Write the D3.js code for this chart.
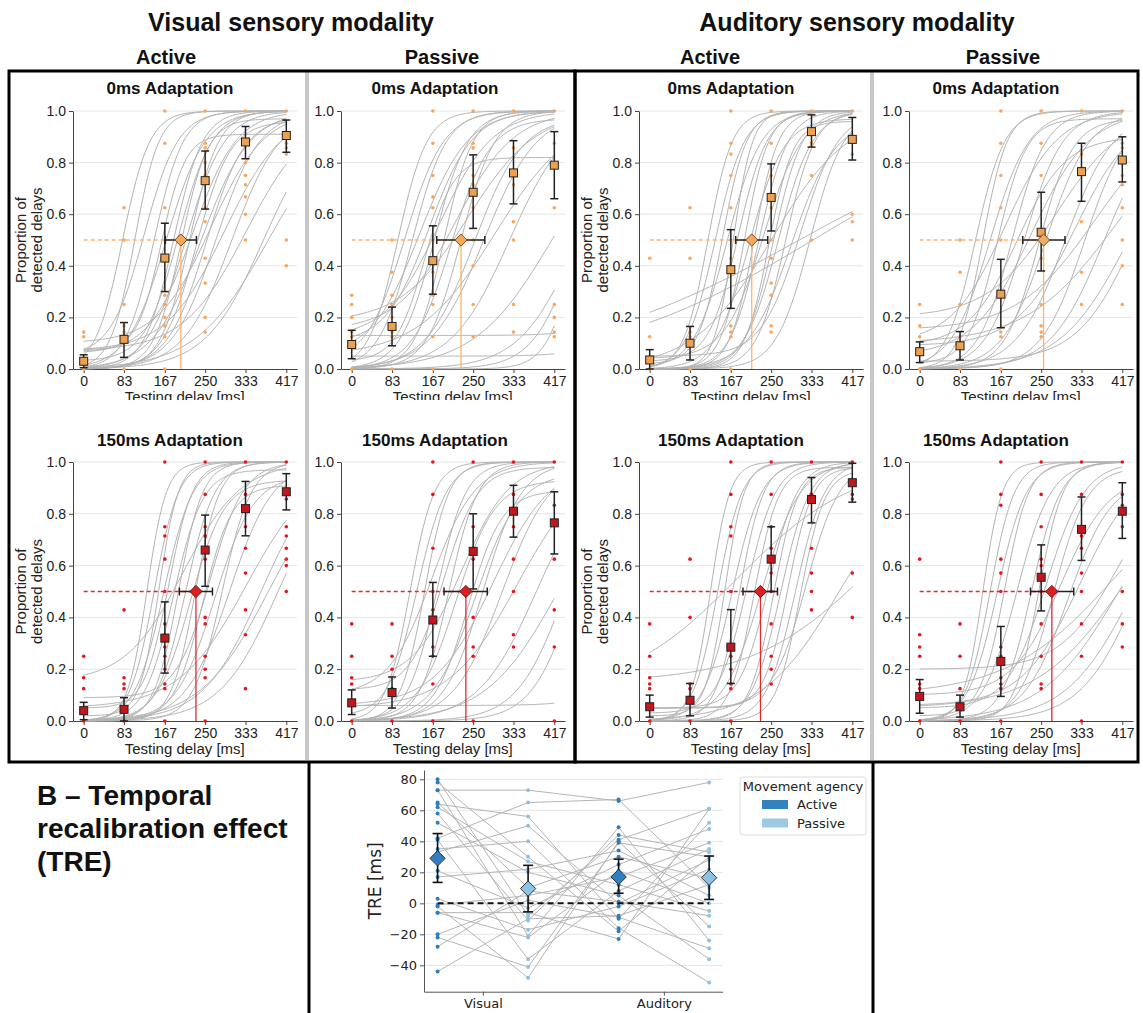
<!DOCTYPE html>
<html>
<head>
<meta charset="utf-8">
<script src="https://cdn.jsdelivr.net/npm/d3@7"></script>
<style>
  body { margin: 0; background: #fff; }
  svg { display: block; }
</style>
</head>
<body>
<div id="chart"></div>
<script>
// ---- data ----
const delays = [0, 83, 167, 250, 333, 417];
const propTicks = [0, 0.2, 0.4, 0.6, 0.8, 1.0];

// fitted psychometric curves per participant: [pse, spread, lower, upper]
// mean proportion per delay, its CI, individual proportions, PSE [value, lo, hi]

// Visual / active / 0ms
const meanVisAct0 = [0.03, 0.115, 0.43, 0.73, 0.88, 0.905];
const ciVisAct0 = [[0.005, 0.055], [0.045, 0.18], [0.30, 0.565], [0.62, 0.845], [0.815, 0.94], [0.84, 0.965]];
const pseVisAct0 = [200, 168, 232];
const dotsVisAct0 = [
  [0, 0.125, 0.143],
  [0, 0.125, 0.143, 0.167, 0.25, 0.5, 0.625],
  [0, 0.125, 0.167, 0.2, 0.25, 0.286, 0.5, 0.625, 0.875, 1],
  [0.143, 0.2, 0.333, 0.429, 0.571, 0.625, 0.75, 0.8, 0.857, 0.875, 1],
  [0.5, 0.6, 0.667, 0.714, 0.75, 0.8, 0.875, 1],
  [0.4, 0.5, 0.833, 0.857, 0.875, 1]
];
const curvesVisAct0 = [
  [80, 28, 0, 1], [105, 25, 0, 1], [125, 35, 0.05, 1], [145, 30, 0, 1], [160, 25, 0.07, 0.91],
  [170, 40, 0, 1], [185, 30, 0, 1], [195, 35, 0.03, 1], [200, 28, 0, 0.97], [210, 40, 0, 1],
  [218, 30, 0, 1], [225, 45, 0.06, 1], [232, 35, 0, 0.96], [242, 50, 0, 1], [252, 40, 0, 0.98],
  [262, 55, 0.1, 1], [272, 45, 0, 1], [290, 60, 0.07, 1], [305, 50, 0, 1], [335, 65, 0.07, 1],
  [370, 60, 0, 1], [380, 75, 0, 1]
];

// Visual / passive / 0ms
const meanVisPas0 = [0.095, 0.165, 0.42, 0.685, 0.76, 0.79];
const ciVisPas0 = [[0.04, 0.15], [0.09, 0.24], [0.29, 0.555], [0.545, 0.83], [0.64, 0.885], [0.66, 0.92]];
const pseVisPas0 = [225, 175, 274];
const dotsVisPas0 = [
  [0, 0.125, 0.143, 0.2, 0.25, 0.286],
  [0, 0.125, 0.143, 0.2, 0.25, 0.286, 0.375, 0.5],
  [0, 0.125, 0.25, 0.286, 0.375, 0.5, 0.625, 0.667, 0.75, 0.875, 1],
  [0.125, 0.25, 0.4, 0.5, 0.625, 0.714, 0.75, 0.857, 0.875, 1],
  [0.143, 0.25, 0.5, 0.571, 0.714, 0.857, 1],
  [0.125, 0.143, 0.2, 0.25, 0.625, 0.875, 1]
];
const curvesVisPas0 = [
  [95, 30, 0, 1], [110, 40, 0.02, 1], [125, 35, 0, 1], [140, 50, 0.05, 1], [150, 30, 0.03, 0.82],
  [160, 45, 0.1, 1], [170, 35, 0, 1], [180, 55, 0.12, 1], [190, 30, 0, 1], [205, 40, 0, 0.97],
  [215, 60, 0.15, 1], [225, 35, 0, 1], [240, 70, 0.18, 1], [252, 50, 0, 0.98], [272, 55, 0, 1],
  [295, 80, 0.05, 1], [325, 60, 0, 1], [412, 80, 0, 1], [466, 60, 0, 1], [466, 45, 0, 1],
  [465, 30, 0, 1], [650, 50, 0.13, 1], [650, 50, 0.05, 1]
];

// Auditory / active / 0ms
const meanAudAct0 = [0.035, 0.10, 0.385, 0.665, 0.92, 0.89];
const ciAudAct0 = [[0.0, 0.075], [0.035, 0.165], [0.235, 0.54], [0.535, 0.795], [0.86, 0.985], [0.81, 0.975]];
const pseAudAct0 = [210, 177, 243];
const dotsAudAct0 = [
  [0, 0.125, 0.429],
  [0, 0.125, 0.143, 0.429, 0.625],
  [0, 0.125, 0.143, 0.167, 0.429, 0.5, 0.625, 0.75, 0.833, 0.875, 1],
  [0.143, 0.167, 0.286, 0.333, 0.429, 0.5, 0.625, 0.75, 0.875, 1],
  [0.5, 0.75, 0.875, 1],
  [0.5, 0.571, 0.6, 0.833, 1]
];
const curvesAudAct0 = [
  [120, 25, 0, 1], [135, 30, 0, 1], [150, 25, 0.02, 1], [160, 35, 0, 1], [172, 20, 0, 1],
  [182, 30, 0.03, 1], [195, 25, 0, 1], [205, 35, 0, 0.97], [215, 25, 0, 1], [225, 30, 0, 1],
  [235, 40, 0.04, 1], [245, 25, 0, 0.96], [255, 30, 0, 1], [265, 35, 0, 1], [280, 30, 0, 1],
  [292, 45, 0, 0.97], [310, 40, 0.05, 1], [330, 35, 0, 1], [250, 80, 0, 1], [308, 243, 0, 1],
  [336, 222, 0, 1]
];

// Auditory / passive / 0ms
const meanAudPas0 = [0.067, 0.09, 0.29, 0.53, 0.765, 0.81];
const ciAudPas0 = [[0.025, 0.105], [0.035, 0.145], [0.16, 0.425], [0.38, 0.685], [0.65, 0.875], [0.725, 0.90]];
const pseAudPas0 = [255, 212, 299];
const dotsAudPas0 = [
  [0, 0.125, 0.167, 0.25],
  [0, 0.125, 0.25, 0.375, 0.5],
  [0, 0.125, 0.143, 0.5, 0.625, 0.75, 0.875, 1],
  [0.125, 0.143, 0.167, 0.25, 0.429, 0.5, 0.75, 0.875, 1],
  [0.25, 0.375, 0.571, 0.833, 1],
  [0.25, 0.4, 0.5, 0.625, 0.714, 0.75, 0.857, 0.875, 1]
];
const curvesAudPas0 = [
  [115, 30, 0, 1], [130, 25, 0, 1], [145, 40, 0, 1], [160, 30, 0.02, 0.97], [175, 55, 0.1, 1],
  [190, 35, 0, 1], [200, 50, 0.09, 0.9], [215, 40, 0, 1], [230, 60, 0.05, 1], [245, 35, 0, 0.97],
  [260, 45, 0, 1], [280, 70, 0.2, 1], [300, 50, 0, 1], [320, 60, 0.09, 1], [340, 45, 0, 1],
  [360, 80, 0.15, 1], [380, 55, 0, 1], [400, 90, 0.1, 1], [430, 70, 0, 1], [445, 60, 0.03, 1]
];

// Visual / active / 150ms
const meanVisAct150 = [0.04, 0.045, 0.32, 0.66, 0.82, 0.885];
const ciVisAct150 = [[0.005, 0.072], [0.0, 0.09], [0.185, 0.46], [0.52, 0.795], [0.715, 0.925], [0.815, 0.955]];
const pseVisAct150 = [231, 197, 265];
const dotsVisAct150 = [
  [0, 0.125, 0.167, 0.25],
  [0, 0.125, 0.143, 0.167, 0.429],
  [0, 0.125, 0.143, 0.2, 0.25, 0.286, 0.333, 0.375, 0.5, 0.625, 0.714, 0.75, 1],
  [0, 0.167, 0.2, 0.25, 0.375, 0.4, 0.625, 0.667, 0.714, 0.75, 0.875, 1],
  [0.125, 0.333, 0.429, 0.571, 0.667, 0.75, 0.875, 1],
  [0.5, 0.6, 0.625, 0.667, 0.714, 0.75, 0.857, 1]
];
const curvesVisAct150 = [
  [130, 20, 0, 1], [145, 25, 0, 1], [155, 20, 0.02, 1], [165, 30, 0, 1], [175, 25, 0.05, 1],
  [185, 30, 0, 0.97], [195, 25, 0, 1], [205, 60, 0.15, 1], [210, 30, 0, 1], [220, 35, 0, 0.93],
  [230, 25, 0, 1], [245, 30, 0, 0.91], [260, 35, 0.09, 1], [270, 40, 0, 0.95], [285, 30, 0, 1],
  [300, 45, 0, 1], [335, 70, 0.05, 1], [365, 60, 0, 1], [380, 70, 0, 1], [400, 60, 0, 1]
];

// Visual / passive / 150ms
const meanVisPas150 = [0.07, 0.11, 0.39, 0.655, 0.81, 0.765];
const ciVisPas150 = [[0.025, 0.12], [0.05, 0.17], [0.25, 0.535], [0.51, 0.80], [0.71, 0.91], [0.645, 0.885]];
const pseVisPas150 = [235, 190, 279];
const dotsVisPas150 = [
  [0, 0.143, 0.167, 0.25, 0.375],
  [0, 0.125, 0.2, 0.25, 0.375],
  [0, 0.143, 0.25, 0.286, 0.429, 0.5, 0.667, 0.875, 1],
  [0, 0.25, 0.286, 0.4, 0.625, 0.667, 0.75, 1],
  [0.286, 0.333, 0.5, 0.625, 0.75, 0.875, 1],
  [0, 0.286, 0.429, 0.625, 0.833, 1]
];
const curvesVisPas150 = [
  [120, 25, 0, 1], [135, 30, 0.02, 1], [150, 25, 0, 1], [165, 45, 0.1, 1], [175, 30, 0, 1],
  [190, 35, 0.12, 0.98], [200, 30, 0, 1], [215, 40, 0, 0.93], [225, 50, 0.15, 1], [240, 35, 0, 0.89],
  [255, 45, 0, 0.96], [270, 40, 0, 1], [290, 60, 0.06, 1], [310, 50, 0, 1], [340, 70, 0.05, 1],
  [380, 60, 0, 1], [425, 75, 0, 1], [440, 50, 0, 1], [460, 45, 0, 1], [650, 50, 0.06, 1]
];

// Auditory / active / 150ms
const meanAudAct150 = [0.055, 0.08, 0.285, 0.625, 0.855, 0.92];
const ciAudAct150 = [[0.015, 0.10], [0.02, 0.145], [0.145, 0.43], [0.50, 0.75], [0.765, 0.94], [0.845, 0.995]];
const pseAudAct150 = [228, 192, 263];
const dotsAudAct150 = [
  [0, 0.125, 0.143, 0.167, 0.25, 0.375],
  [0, 0.125, 0.143, 0.4, 0.625],
  [0, 0.125, 0.143, 0.2, 0.25, 0.5, 0.714, 0.75, 0.875, 1],
  [0.143, 0.2, 0.25, 0.375, 0.5, 0.571, 0.667, 0.75, 0.875, 1],
  [0.429, 0.5, 0.571, 0.667, 0.875, 1],
  [0.4, 0.571, 0.857, 0.875, 1]
];
const curvesAudAct150 = [
  [125, 20, 0, 1], [140, 25, 0, 1], [155, 20, 0.02, 1], [170, 30, 0, 1], [185, 25, 0, 1],
  [200, 30, 0.03, 1], [215, 25, 0, 0.98], [230, 40, 0, 1], [245, 30, 0.05, 1], [255, 25, 0, 0.98],
  [270, 30, 0, 1], [285, 25, 0.05, 0.98], [300, 30, 0, 1], [310, 25, 0, 0.97], [322, 35, 0.05, 1],
  [180, 120, 0.1, 1], [450, 120, 0.15, 1], [390, 80, 0, 1]
];

// Auditory / passive / 150ms
const meanAudPas150 = [0.095, 0.055, 0.23, 0.555, 0.74, 0.81];
const ciAudPas150 = [[0.03, 0.16], [0.015, 0.10], [0.095, 0.365], [0.425, 0.68], [0.62, 0.865], [0.705, 0.92]];
const pseAudPas150 = [272, 228, 317];
const dotsAudPas150 = [
  [0, 0.125, 0.143, 0.25, 0.286, 0.333, 0.625],
  [0, 0.125, 0.25, 0.375],
  [0, 0.125, 0.143, 0.167, 0.25, 0.286, 0.5, 0.571, 0.625, 0.833, 0.875, 1],
  [0.125, 0.143, 0.25, 0.375, 0.5, 0.6, 0.625, 0.75, 0.875, 1],
  [0, 0.25, 0.375, 0.5, 0.571, 0.667, 0.714, 0.875, 1],
  [0.286, 0.375, 0.5, 0.75, 0.833, 0.875, 1]
];
const curvesAudPas150 = [
  [130, 20, 0, 1], [145, 25, 0, 1], [160, 30, 0, 1], [175, 25, 0.02, 1], [200, 35, 0, 1],
  [230, 30, 0, 1], [245, 25, 0, 1], [260, 40, 0.05, 1], [275, 35, 0, 0.98], [290, 50, 0.1, 0.95],
  [305, 45, 0, 0.94], [330, 60, 0.06, 1], [400, 110, 0.1, 1], [410, 80, 0, 1], [420, 90, 0.05, 1],
  [440, 70, 0, 1], [410, 60, 0.2, 1], [450, 60, 0, 1]
];

// B - temporal recalibration effect, one value per participant
const treVisAct = [80, 78, 73, 73, 65, 64, 62, 58, 52, 42, 41, 35, 33, 21, 17, 3, -1, -2, -6, -6, -20, -22, -28, -44];
const treVisPas = [-8, 30, 73, -21, 10, 56, 27, -11, 20, 65, -36, 40, 50, -3, 22, -17, 5, -48, -6, -22, 2, -41, 8, -10];
const treAudAct = [41, -18, 66, 49, 30, -10, 12, 44, 5, 67, 8, -16, 0, 25, 34, -2, 17, 40, -23, 21, -9, 39, 1, -8];
const treAudPas = [61, 30, 78, -24, 16, 52, -5, 33, -36, 10, 35, -51, 28, 48, 5, 22, 39, -15, 61, 0, -29, 30, -8, 12];
const treMean = [29, 9.5, 17, 16.5];
const treCi = [[13.5, 45], [-5.5, 24.5], [6.5, 28.5], [2.5, 30.5]];
const treTicks = [-40, -20, 0, 20, 40, 60, 80];
const modalities = ["Visual", "Auditory"];
const agencies = ["Active", "Passive"];

// ---- layout ----
const W = 1143, H = 1013;
const sans = "'Liberation Sans', Arial, sans-serif";
const mpl = "'DejaVu Sans', sans-serif";
const rows = [{ top: 111, bot: 369, titleY: 94 }, { top: 462, bot: 721, titleY: 446 }];
const colX = [73, 341, 639, 909];
const titleX = [170, 435, 731, 996];
const pw = 224;
const palette = {
  orange: { dot: "#fba65c", fill: "#eea04e", line: "#fdb36b", diamond: "#f5a95c", edge: "#7a4a1a" },
  red: { dot: "#e8141c", fill: "#c4161c", line: "#e3282b", diamond: "#dd1f1f", edge: "#6e0e0e" }
};

const panels = [
  { col: 0, row: 0, title: "0ms Adaptation", mean: meanVisAct0, ci: ciVisAct0, pse: pseVisAct0, dots: dotsVisAct0, curves: curvesVisAct0, c: "orange" },
  { col: 1, row: 0, title: "0ms Adaptation", mean: meanVisPas0, ci: ciVisPas0, pse: pseVisPas0, dots: dotsVisPas0, curves: curvesVisPas0, c: "orange" },
  { col: 2, row: 0, title: "0ms Adaptation", mean: meanAudAct0, ci: ciAudAct0, pse: pseAudAct0, dots: dotsAudAct0, curves: curvesAudAct0, c: "orange" },
  { col: 3, row: 0, title: "0ms Adaptation", mean: meanAudPas0, ci: ciAudPas0, pse: pseAudPas0, dots: dotsAudPas0, curves: curvesAudPas0, c: "orange" },
  { col: 0, row: 1, title: "150ms Adaptation", mean: meanVisAct150, ci: ciVisAct150, pse: pseVisAct150, dots: dotsVisAct150, curves: curvesVisAct150, c: "red" },
  { col: 1, row: 1, title: "150ms Adaptation", mean: meanVisPas150, ci: ciVisPas150, pse: pseVisPas150, dots: dotsVisPas150, curves: curvesVisPas150, c: "red" },
  { col: 2, row: 1, title: "150ms Adaptation", mean: meanAudAct150, ci: ciAudAct150, pse: pseAudAct150, dots: dotsAudAct150, curves: curvesAudAct150, c: "red" },
  { col: 3, row: 1, title: "150ms Adaptation", mean: meanAudPas150, ci: ciAudPas150, pse: pseAudPas150, dots: dotsAudPas150, curves: curvesAudPas150, c: "red" }
];

const svg = d3.select("#chart").append("svg")
  .attr("width", W).attr("height", H)
  .style("background", "#fff");

svg.append("defs").append("clipPath").attr("id", "topclip")
  .append("rect").attr("x", 0).attr("y", 0).attr("width", W).attr("height", 400);

// headers
[["Visual sensory modality", 291], ["Auditory sensory modality", 857]].forEach(([t, x]) => {
  svg.append("text").text(t)
    .attr("x", x).attr("y", 31).attr("text-anchor", "middle")
    .attr("font-family", sans).attr("font-weight", "bold").attr("font-size", "25px").attr("fill", "#111");
});
[166, 442, 710, 1003].forEach((x, i) => {
  svg.append("text").text(agencies[i % 2])
    .attr("x", x).attr("y", 64).attr("text-anchor", "middle")
    .attr("font-family", sans).attr("font-weight", "bold").attr("font-size", "20px").attr("fill", "#111");
});

const logistic = c => t => c[2] + (c[3] - c[2]) / (1 + Math.exp(-(t - c[0]) / c[1]));
const tGrid = d3.range(0, 418, 3).concat([417]);

function drawPanel(p) {
  const row = rows[p.row];
  const x0 = colX[p.col];
  const col = palette[p.c];
  const x = d3.scaleLinear().domain([-22, 439]).range([x0, x0 + pw]);
  const y = d3.scaleLinear().domain([0, 1]).range([row.bot, row.top]);
  const g = svg.append("g");

  g.selectAll(".grid").data(propTicks.slice(1)).enter().append("line")
    .attr("x1", x0).attr("x2", x0 + pw)
    .attr("y1", d => y(d)).attr("y2", d => y(d))
    .attr("stroke", "#e6e6e6").attr("stroke-width", 1);

  const ax = g.append("g").attr("transform", `translate(${x0},0)`)
    .call(d3.axisLeft(y).tickValues(propTicks).tickFormat(d3.format(".1f")).tickSize(4).tickSizeOuter(0));
  const bx = g.append("g").attr("transform", `translate(0,${row.bot})`)
    .call(d3.axisBottom(x).tickValues(delays).tickSize(4).tickSizeOuter(0));
  [ax, bx].forEach(a => {
    a.select(".domain").attr("stroke", "#444");
    a.selectAll(".tick line").attr("stroke", "#444");
    a.selectAll(".tick text").attr("font-family", sans).attr("font-size", "14px").attr("fill", "#222");
  });

  // panel title
  g.append("text").text(p.title)
    .attr("x", titleX[p.col]).attr("y", row.titleY).attr("text-anchor", "middle")
    .attr("font-family", sans).attr("font-weight", "bold").attr("font-size", "17px").attr("fill", "#111");

  // x label (top row is cut off in the original)
  const xl = g.append("text").text("Testing delay [ms]")
    .attr("x", x(208)).attr("y", row.bot + 33).attr("text-anchor", "middle")
    .attr("font-family", sans).attr("font-size", "15px").attr("fill", "#222");
  if (p.row === 0) xl.attr("clip-path", "url(#topclip)");

  if (p.col === 0 || p.col === 2) {
    const cy = (row.top + row.bot) / 2;
    const yl = g.append("text")
      .attr("transform", `translate(${x0 - 42},${cy}) rotate(-90)`)
      .attr("text-anchor", "middle")
      .attr("font-family", sans).attr("font-size", "15px").attr("fill", "#222");
    yl.append("tspan").attr("x", 0).attr("dy", "-0.35em").text("Proportion of");
    yl.append("tspan").attr("x", 0).attr("dy", "1.1em").text("detected delays");
  }

  // fitted curves
  const line = d3.line().x(d => x(d[0])).y(d => y(d[1]));
  g.selectAll(".fit").data(p.curves).enter().append("path")
    .attr("d", c => line(tGrid.map(t => [t, logistic(c)(t)])))
    .attr("fill", "none").attr("stroke", "#b3b3b3").attr("stroke-width", 1);

  // individual proportions
  const pts = [];
  p.dots.forEach((vals, i) => vals.forEach(v => pts.push([delays[i], v])));
  g.selectAll(".dot").data(pts).enter().append("circle")
    .attr("cx", d => x(d[0])).attr("cy", d => y(d[1])).attr("r", 1.8)
    .attr("fill", col.dot);

  // PSE guides
  g.append("line")
    .attr("x1", x(0)).attr("x2", x(p.pse[0])).attr("y1", y(0.5)).attr("y2", y(0.5))
    .attr("stroke", col.line).attr("stroke-width", 1.3).attr("stroke-dasharray", "4,3");
  g.append("line")
    .attr("x1", x(p.pse[0])).attr("x2", x(p.pse[0])).attr("y1", y(0.5)).attr("y2", y(0))
    .attr("stroke", col.line).attr("stroke-width", 1.3);

  // mean error bars
  const eb = g.selectAll(".eb").data(p.ci).enter().append("g");
  eb.append("line")
    .attr("x1", (d, i) => x(delays[i])).attr("x2", (d, i) => x(delays[i]))
    .attr("y1", d => y(d[0])).attr("y2", d => y(d[1]));
  eb.append("line")
    .attr("x1", (d, i) => x(delays[i]) - 4).attr("x2", (d, i) => x(delays[i]) + 4)
    .attr("y1", d => y(d[0])).attr("y2", d => y(d[0]));
  eb.append("line")
    .attr("x1", (d, i) => x(delays[i]) - 4).attr("x2", (d, i) => x(delays[i]) + 4)
    .attr("y1", d => y(d[1])).attr("y2", d => y(d[1]));
  eb.selectAll("line").attr("stroke", "#222").attr("stroke-width", 1.5);

  g.selectAll(".mean").data(p.mean).enter().append("rect")
    .attr("x", (d, i) => x(delays[i]) - 4).attr("y", d => y(d) - 4)
    .attr("width", 8).attr("height", 8)
    .attr("fill", col.fill).attr("stroke", "#222").attr("stroke-width", 1);

  // PSE with horizontal CI
  const py = y(0.5);
  g.append("line").attr("x1", x(p.pse[1])).attr("x2", x(p.pse[2])).attr("y1", py).attr("y2", py);
  g.append("line").attr("x1", x(p.pse[1])).attr("x2", x(p.pse[1])).attr("y1", py - 4).attr("y2", py + 4);
  g.append("line").attr("x1", x(p.pse[2])).attr("x2", x(p.pse[2])).attr("y1", py - 4).attr("y2", py + 4);
  g.selectAll("line:not([stroke])").attr("stroke", "#222").attr("stroke-width", 1.5);
  g.append("path")
    .attr("d", d3.symbol().type(d3.symbolDiamond2).size(95)())
    .attr("transform", `translate(${x(p.pse[0])},${py})`)
    .attr("fill", col.diamond).attr("stroke", col.edge).attr("stroke-width", 1);
}

panels.forEach(drawPanel);

// ---- frames ----
const frame = svg.append("g").attr("fill", "none");
frame.append("line").attr("x1", 307).attr("x2", 307).attr("y1", 72).attr("y2", 760).attr("stroke", "#c8c8c8").attr("stroke-width", 4);
frame.append("line").attr("x1", 872).attr("x2", 872).attr("y1", 72).attr("y2", 760).attr("stroke", "#c8c8c8").attr("stroke-width", 4);
frame.append("rect").attr("x", 9).attr("y", 71).attr("width", 566).attr("height", 691).attr("stroke", "#000").attr("stroke-width", 3);
frame.append("rect").attr("x", 575).attr("y", 71).attr("width", 563).attr("height", 691).attr("stroke", "#000").attr("stroke-width", 3);
frame.append("line").attr("x1", 309).attr("x2", 309).attr("y1", 762).attr("y2", H).attr("stroke", "#000").attr("stroke-width", 3);
frame.append("line").attr("x1", 873).attr("x2", 873).attr("y1", 762).attr("y2", H).attr("stroke", "#000").attr("stroke-width", 3);

// ---- B: temporal recalibration effect ----
const bt = svg.append("text")
  .attr("font-family", sans).attr("font-weight", "bold").attr("font-size", "28px").attr("fill", "#111");
["B \u2013 Temporal", "recalibration effect", "(TRE)"].forEach((t, i) => {
  bt.append("tspan").attr("x", 37).attr("y", 805 + i * 33).text(t);
});

const bx0 = 424, bx1 = 722.7, by0 = 991.7, by1 = 770;
const xb = d3.scaleLinear().domain([-0.15, 3.15]).range([bx0, bx1]);
const yb = d3.scaleLinear().domain([-57, 86]).range([by0, by1]);
const gb = svg.append("g");

gb.selectAll(".bgrid").data(treTicks).enter().append("line")
  .attr("x1", bx0).attr("x2", bx1).attr("y1", d => yb(d)).attr("y2", d => yb(d))
  .attr("stroke", "#e6e6e6");

const yAxB = gb.append("g").attr("transform", `translate(${bx0},0)`)
  .call(d3.axisLeft(yb).tickValues(treTicks).tickSize(4).tickSizeOuter(0));
const xAxB = gb.append("g").attr("transform", `translate(0,${by0})`)
  .call(d3.axisBottom(xb).tickValues([0.5, 2.5]).tickFormat((d, i) => modalities[i]).tickSize(4).tickSizeOuter(0));
[yAxB, xAxB].forEach(a => {
  a.select(".domain").attr("stroke", "#555");
  a.selectAll(".tick line").attr("stroke", "#555");
  a.selectAll(".tick text").attr("font-family", mpl).attr("font-size", "13px").attr("fill", "#222");
});

gb.append("text").text("TRE [ms]")
  .attr("transform", `translate(${bx0 - 43},${(by0 + by1) / 2}) rotate(-90)`)
  .attr("text-anchor", "middle")
  .attr("font-family", mpl).attr("font-size", "17px").attr("fill", "#222");

const treCols = [treVisAct, treVisPas, treAudAct, treAudPas];
const subjects = treVisAct.map((d, i) => treCols.map((c, k) => [k, c[i]]));
const bline = d3.line().x(d => xb(d[0])).y(d => yb(d[1]));
gb.selectAll(".subj").data(subjects).enter().append("path")
  .attr("d", bline).attr("fill", "none").attr("stroke", "#b5b5b5").attr("stroke-width", 1);

const blue = ["#2f7ebc", "#8fc2e2"];
treCols.forEach((c, k) => {
  gb.selectAll(".p" + k).data(c).enter().append("circle")
    .attr("cx", xb(k)).attr("cy", d => yb(d)).attr("r", 2)
    .attr("fill", blue[k % 2]);
});

gb.append("line")
  .attr("x1", xb(0)).attr("x2", xb(3)).attr("y1", yb(0)).attr("y2", yb(0))
  .attr("stroke", "#111").attr("stroke-width", 2).attr("stroke-dasharray", "6,4");

treCi.forEach((ci, k) => {
  const cx = xb(k);
  const e = gb.append("g").attr("stroke", "#111").attr("stroke-width", 1.6);
  e.append("line").attr("x1", cx).attr("x2", cx).attr("y1", yb(ci[0])).attr("y2", yb(ci[1]));
  e.append("line").attr("x1", cx - 5).attr("x2", cx + 5).attr("y1", yb(ci[0])).attr("y2", yb(ci[0]));
  e.append("line").attr("x1", cx - 5).attr("x2", cx + 5).attr("y1", yb(ci[1])).attr("y2", yb(ci[1]));
});
gb.selectAll(".bmean").data(treMean).enter().append("path")
  .attr("d", d3.symbol().type(d3.symbolDiamond2).size(150)())
  .attr("transform", (d, k) => `translate(${xb(k)},${yb(d)})`)
  .attr("fill", (d, k) => k % 2 ? "#8cc3e5" : "#2f7fc1")
  .attr("stroke", "#333").attr("stroke-width", 1);

// legend
const lg = svg.append("g").attr("font-family", mpl).attr("font-size", "13px").attr("fill", "#222");
lg.append("rect").attr("x", 740).attr("y", 777).attr("width", 126).attr("height", 58).attr("rx", 3)
  .attr("fill", "#fff").attr("stroke", "#dcdcdc");
lg.append("text").text("Movement agency").attr("x", 803).attr("y", 791).attr("text-anchor", "middle");
agencies.forEach((a, i) => {
  lg.append("rect").attr("x", 762).attr("y", 800 + i * 18.5).attr("width", 26).attr("height", 9)
    .attr("fill", i ? "#9ecae1" : "#3182bd");
  lg.append("text").text(a).attr("x", 797).attr("y", 809 + i * 18.5);
});
</script>
</body>
</html>
